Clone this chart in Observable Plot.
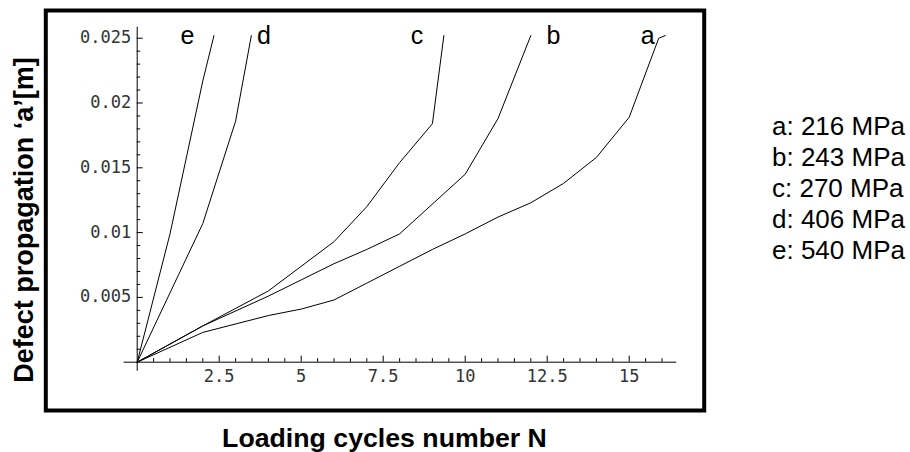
<!DOCTYPE html>
<html>
<head>
<meta charset="utf-8">
<script src="https://cdn.jsdelivr.net/npm/d3@7"></script>
<script src="https://cdn.jsdelivr.net/npm/@observablehq/plot@0.6"></script>
<style>
  html, body { margin: 0; padding: 0; background: #fff; }
  #chart svg { display: block; }
</style>
</head>
<body>
<div id="chart"></div>
<script>
// ---- data ----
const seriesNames = ["a", "b", "c", "d", "e"];
const stressLabels = ["216 MPa", "243 MPa", "270 MPa", "406 MPa", "540 MPa"];

const cyclesA = [0, 2, 4, 5, 6, 7, 8, 9, 10, 11, 12, 13, 14, 15, 15.9, 16.1];
const crackA  = [0, 0.0023, 0.0036, 0.0041, 0.0048, 0.0061, 0.0074, 0.0087, 0.0099, 0.0112, 0.0123, 0.0138, 0.0158, 0.0189, 0.0250, 0.0252];
const cyclesB = [0, 2, 4, 6, 7, 8, 10, 11, 12];
const crackB  = [0, 0.0028, 0.0051, 0.0076, 0.0087, 0.0099, 0.0145, 0.0188, 0.0252];
const cyclesC = [0, 2, 4, 6, 7, 8, 9, 9.35];
const crackC  = [0, 0.0028, 0.0055, 0.0093, 0.0120, 0.0154, 0.0184, 0.0252];
const cyclesD = [0, 2, 3, 3.48];
const crackD  = [0, 0.0107, 0.0186, 0.0252];
const cyclesE = [0, 1, 2, 2.34];
const crackE  = [0, 0.0099, 0.0217, 0.0252];

const xTickValues = [2.5, 5, 7.5, 10, 12.5, 15];
const xTickLabels = ["2.5", "5", "7.5", "10", "12.5", "15"];
const yTickValues = [0.005, 0.01, 0.015, 0.02, 0.025];
const yTickLabels = ["0.005", "0.01", "0.015", "0.02", "0.025"];

const xTitle = "Loading cycles number N";
const yTitle = "Defect propagation \u2018a\u2019[m]";

// ---- build tables ----
const cyclesList = [cyclesA, cyclesB, cyclesC, cyclesD, cyclesE];
const crackList = [crackA, crackB, crackC, crackD, crackE];
const rows = seriesNames.flatMap((s, k) =>
  cyclesList[k].map((n, i) => ({series: s, N: n, a: crackList[k][i]})));
const lastPoints = seriesNames.map((s, k) => ({
  series: s,
  N: cyclesList[k][cyclesList[k].length - 1],
  a: crackList[k][crackList[k].length - 1]
}));

const minorX = d3.range(1, 33).filter(i => i % 5 !== 0).map(i => i * 0.5);
const majorX = xTickValues;
const minorY = d3.range(1, 26).filter(i => i % 5 !== 0).map(i => i / 1000);
const majorY = yTickValues;

const xTickRows = xTickValues.map((v, i) => ({v, label: xTickLabels[i]}));
const yTickRows = yTickValues.map((v, i) => ({v, label: yTickLabels[i]}));

const labelDx = {a: -17.7, b: 22.7, c: -27, d: 12.6, e: -26.6};

const W = 910, H = 452;
const mL = 136.7, mR = 248.5, mT = 37.7, mB = 90.3;
const sans = "'Liberation Sans', Arial, Helvetica, sans-serif";
const mono = "'DejaVu Sans Mono', monospace";

const marks = [
  Plot.frame({stroke: "black", strokeWidth: 4,
    insetLeft: 45.3 - mL, insetRight: (W - mR) - 703.7,
    insetTop: 10 - mT, insetBottom: (H - mB) - 410}),
  // axes lines
  Plot.ruleY([0], {x1: -0.4, x2: 16.45, stroke: "black", strokeWidth: 1}),
  Plot.ruleX([0], {y1: -0.0007, y2: 0.02585, stroke: "black", strokeWidth: 1}),
  // x ticks (inward / upward)
  Plot.ruleX(minorX, {x: d => d, y1: 0, y2: 0, insetBottom: 3.5, stroke: "black", strokeWidth: 1}),
  Plot.ruleX(majorX, {x: d => d, y1: 0, y2: 0, insetBottom: 6, stroke: "black", strokeWidth: 1}),
  // y ticks (inward / right)
  Plot.ruleY(minorY, {y: d => d, x1: 0, x2: 0, insetRight: -3.5, stroke: "black", strokeWidth: 1}),
  Plot.ruleY(majorY, {y: d => d, x1: 0, x2: 0, insetRight: -6, stroke: "black", strokeWidth: 1}),
  // tick labels
  Plot.text(xTickRows, {x: "v", y: () => 0, text: "label", dy: 14, lineAnchor: "middle",
    fontFamily: mono, fontSize: 17, fill: "#333"}),
  Plot.text(yTickRows, {x: () => 0, y: "v", text: "label", dx: -6, dy: -0.5, textAnchor: "end",
    lineAnchor: "middle", fontFamily: mono, fontSize: 17, fill: "#333"}),
  // curves
  Plot.line(rows, {x: "N", y: "a", z: "series", stroke: "black", strokeWidth: 1}),
  // series labels
  ...seriesNames.map(s => Plot.text(lastPoints.filter(d => d.series === s),
    {x: "N", y: "a", text: "series", dx: labelDx[s], dy: 0, lineAnchor: "middle",
     fontFamily: sans, fontSize: 25, fill: "black"}))
];

const chart = Plot.plot({
  width: W, height: H,
  marginLeft: mL, marginRight: mR, marginTop: mT, marginBottom: mB,
  x: {domain: [0, 16], axis: null},
  y: {domain: [0, 0.025], axis: null},
  style: {background: "white", overflow: "visible"},
  marks
});
document.getElementById("chart").appendChild(chart);

const svg = d3.select(chart);
svg.append("text")
  .attr("transform", "translate(33.3,220) rotate(-90)")
  .attr("text-anchor", "middle")
  .attr("font-family", sans).attr("font-weight", "bold").attr("font-size", 27)
  .attr("fill", "black")
  .text(yTitle);
svg.append("text")
  .attr("x", 384.5).attr("y", 446.5)
  .attr("text-anchor", "middle")
  .attr("font-family", sans).attr("font-weight", "bold").attr("font-size", 26.7)
  .attr("fill", "black")
  .text(xTitle);
const legend = svg.append("g")
  .attr("font-family", sans).attr("font-size", 26).attr("fill", "black")
  .attr("text-anchor", "start");
seriesNames.forEach((s, i) => {
  legend.append("text")
    .attr("x", 772).attr("y", 134.5 + i * 31)
    .attr("text-anchor", "start")
    .text(`${s}: ${stressLabels[i]}`);
});
</script>
</body>
</html>
